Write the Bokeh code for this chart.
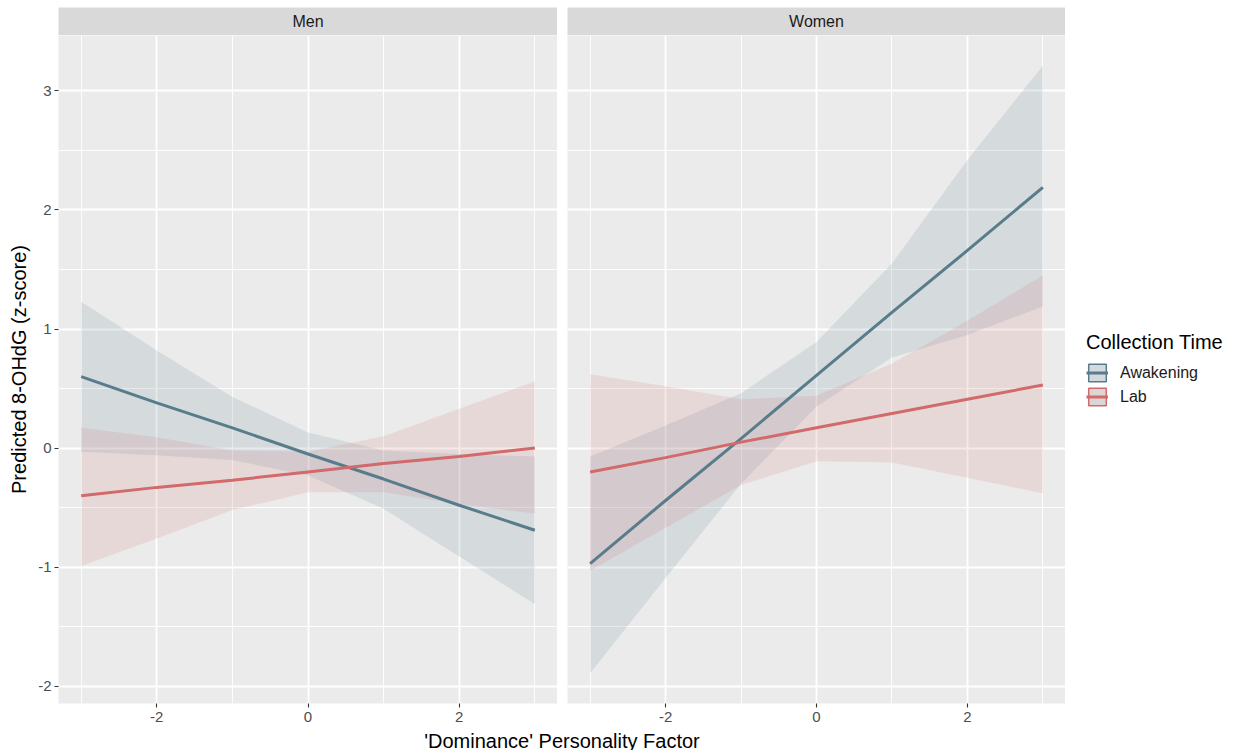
from bokeh.plotting import figure
from bokeh.models import Range1d, FixedTicker, Legend, LegendItem, ColumnDataSource
from bokeh.layouts import row, column
from bokeh.embed import file_html
from bokeh.resources import INLINE
from bokeh.core.properties import value

# ---------------- data ----------------
x_vals = [-3, -2, -1, 0, 1, 2, 3]

men_awake_fit = [0.60, 0.38, 0.17, -0.05, -0.26, -0.48, -0.69]
men_awake_low = [-0.03, -0.06, -0.10, -0.23, -0.51, -0.91, -1.31]
men_awake_up = [1.23, 0.82, 0.43, 0.13, -0.02, -0.05, -0.07]

men_lab_fit = [-0.40, -0.33, -0.27, -0.20, -0.13, -0.07, 0.00]
men_lab_low = [-0.99, -0.76, -0.52, -0.37, -0.37, -0.47, -0.55]
men_lab_up = [0.17, 0.09, -0.02, -0.03, 0.10, 0.33, 0.56]

women_awake_fit = [-0.97, -0.44, 0.08, 0.61, 1.14, 1.66, 2.19]
women_awake_low = [-1.89, -1.09, -0.30, 0.35, 0.76, 0.95, 1.19]
women_awake_up = [-0.07, 0.19, 0.46, 0.89, 1.55, 2.42, 3.21]

women_lab_fit = [-0.20, -0.08, 0.05, 0.17, 0.29, 0.41, 0.53]
women_lab_low = [-1.03, -0.67, -0.31, -0.11, -0.12, -0.25, -0.38]
women_lab_up = [0.62, 0.52, 0.41, 0.44, 0.71, 1.07, 1.45]

facet_labels = ["Men", "Women"]
series_labels = ["Awakening", "Lab"]
legend_title = "Collection Time"
x_title = ["'Dominance' Personality Factor"]
y_title = "Predicted 8-OHdG (z-score)"

x_major = [-2, 0, 2]
x_minor = [-3, -1, 1, 3]
x_tick_labels = ["-2", "0", "2"]
y_major = [-2, -1, 0, 1, 2, 3]
y_minor = [-1.5, -0.5, 0.5, 1.5, 2.5]
y_tick_labels = ["-2", "-1", "0", "1", "2", "3"]

# ---------------- style ----------------
FONT = "Liberation Sans"
AW_COLOR = "#587C8B"
LAB_COLOR = "#D2696A"
PANEL_BG = "#EBEBEB"
STRIP_BG = "#D9D9D9"
RIBBON_ALPHA = 0.15

TOP_PAD = 7
STRIP_H = 28
FRAME_H = 668
TITLE_H = 26
LEFT_W = 58
MEN_W = 499
GAP = 10
WOMEN_W = 498
LEGEND_W = 178

# ranges with ggplot-like 5% expansion
all_low = men_awake_low + men_lab_low + women_awake_low + women_lab_low
all_up = men_awake_up + men_lab_up + women_awake_up + women_lab_up
ymin, ymax = min(all_low), max(all_up)
ypad = 0.05 * (ymax - ymin)
xmin, xmax = min(x_vals), max(x_vals)
xpad = 0.05 * (xmax - xmin)


def make_panel(fa, la, ua, fl, ll, ul, frame_w, left_border, show_y):
    p = figure(frame_width=frame_w, frame_height=FRAME_H,
               x_range=Range1d(xmin - xpad, xmax + xpad),
               y_range=Range1d(ymin - ypad, ymax + ypad),
               output_backend="svg", toolbar_location=None,
               min_border_left=left_border, min_border_right=0,
               min_border_top=0, min_border_bottom=0,
               background_fill_color=PANEL_BG, border_fill_color="white",
               outline_line_color=None)
    src_a = ColumnDataSource(dict(x=x_vals, fit=fa, low=la, up=ua))
    src_l = ColumnDataSource(dict(x=x_vals, fit=fl, low=ll, up=ul))
    p.varea(x="x", y1="low", y2="up", source=src_a,
            fill_color=AW_COLOR, fill_alpha=RIBBON_ALPHA)
    p.varea(x="x", y1="low", y2="up", source=src_l,
            fill_color=LAB_COLOR, fill_alpha=RIBBON_ALPHA)
    p.line(x="x", y="fit", source=src_a, line_color=AW_COLOR, line_width=3)
    p.line(x="x", y="fit", source=src_l, line_color=LAB_COLOR, line_width=3)

    p.xaxis.ticker = FixedTicker(ticks=x_major, minor_ticks=x_minor)
    p.xaxis.major_label_overrides = dict(zip(x_major, x_tick_labels))
    p.yaxis.ticker = FixedTicker(ticks=y_major, minor_ticks=y_minor)
    p.yaxis.major_label_overrides = dict(zip(y_major, y_tick_labels))
    for ax in (p.xaxis, p.yaxis):
        ax.axis_line_color = None
        ax.major_tick_line_color = "#333333"
        ax.major_tick_line_width = 1.1
        ax.major_tick_in = 0
        ax.major_tick_out = 4
        ax.minor_tick_line_color = None
        ax.major_label_text_font = FONT
        ax.major_label_text_font_size = "15px"
        ax.major_label_text_color = "#4D4D4D"
        ax.major_label_standoff = 4
    p.yaxis.major_label_standoff = 3
    p.yaxis.axis_label = y_title if show_y else None
    p.yaxis.axis_label_text_font = FONT
    p.yaxis.axis_label_text_font_size = "20px"
    p.yaxis.axis_label_text_font_style = "normal"
    p.yaxis.axis_label_text_color = "black"
    p.yaxis.axis_label_standoff = 5
    if not show_y:
        p.yaxis.visible = False
    for g in (p.xgrid, p.ygrid):
        g.grid_line_color = "white"
        g.grid_line_width = 1.8
        g.minor_grid_line_color = "white"
        g.minor_grid_line_width = 0.9
    return p


def make_strip(label, frame_w, left_border):
    s = figure(frame_width=frame_w, frame_height=STRIP_H,
               x_range=Range1d(-1, 1), y_range=Range1d(-1, 1),
               output_backend="svg", toolbar_location=None,
               min_border_left=left_border, min_border_right=0,
               min_border_top=TOP_PAD, min_border_bottom=0,
               background_fill_color=STRIP_BG, border_fill_color="white",
               outline_line_color=None)
    s.axis.visible = False
    s.grid.visible = False
    s.text(x=[0], y=[0], text=[label], text_align="center",
           text_baseline="middle", text_font=value(FONT),
           text_font_size="16px", text_color="#1A1A1A")
    return s


men = make_panel(men_awake_fit, men_awake_low, men_awake_up,
                 men_lab_fit, men_lab_low, men_lab_up, MEN_W, LEFT_W, True)
women = make_panel(women_awake_fit, women_awake_low, women_awake_up,
                   women_lab_fit, women_lab_low, women_lab_up, WOMEN_W, GAP, False)

strip_men = make_strip(facet_labels[0], MEN_W, LEFT_W)
strip_women = make_strip(facet_labels[1], WOMEN_W, GAP)

# legend figure (keys are drawn from placeholder renderers with no visible data)
lf = figure(frame_width=LEGEND_W, frame_height=FRAME_H,
            x_range=Range1d(0, 1), y_range=Range1d(0, 1),
            output_backend="svg", toolbar_location=None,
            min_border_left=0, min_border_right=0,
            min_border_top=0, min_border_bottom=0,
            background_fill_color="white", border_fill_color="white",
            outline_line_color=None)
lf.axis.visible = False
lf.grid.visible = False
nan = float("nan")
key_a = lf.rect(x=[nan], y=[nan], width=1, height=1, fill_color="#D3D9DC",
                line_color=AW_COLOR, line_width=1.5)
line_a = lf.line(x=[nan, nan], y=[nan, nan], line_color=AW_COLOR, line_width=3)
key_l = lf.rect(x=[nan], y=[nan], width=1, height=1, fill_color="#DCD5D5",
                line_color=LAB_COLOR, line_width=1.5)
line_l = lf.line(x=[nan, nan], y=[nan, nan], line_color=LAB_COLOR, line_width=3)
legend = Legend(items=[LegendItem(label=series_labels[0], renderers=[key_a, line_a]),
                       LegendItem(label=series_labels[1], renderers=[key_l, line_l])],
                location="center_left", title=legend_title,
                margin=21, padding=8, spacing=2,
                glyph_width=22, glyph_height=22, label_height=22,
                label_standoff=12, title_standoff=8,
                border_line_color=None, background_fill_color="white",
                label_text_font=FONT, label_text_font_size="16px",
                label_text_color="#1A1A1A",
                title_text_font=FONT, title_text_font_size="20px",
                title_text_font_style="normal", title_text_color="black")
lf.add_layout(legend, "center")

# x-axis title spanning both panels
xt = figure(frame_width=MEN_W + GAP + WOMEN_W, frame_height=TITLE_H,
            x_range=Range1d(-1, 1), y_range=Range1d(0, TITLE_H),
            output_backend="svg", toolbar_location=None,
            min_border_left=LEFT_W, min_border_right=0,
            min_border_top=0, min_border_bottom=0,
            background_fill_color="white", border_fill_color="white",
            outline_line_color=None)
xt.axis.visible = False
xt.grid.visible = False
xt.text(x=[0], y=[10], text=x_title, text_align="center",
        text_baseline="middle", text_font=value(FONT),
        text_font_size="20px", text_color="black")

layout = column(row(strip_men, strip_women),
                row(men, women, lf),
                xt)

open("out.html", "w").write(file_html(layout, INLINE))
